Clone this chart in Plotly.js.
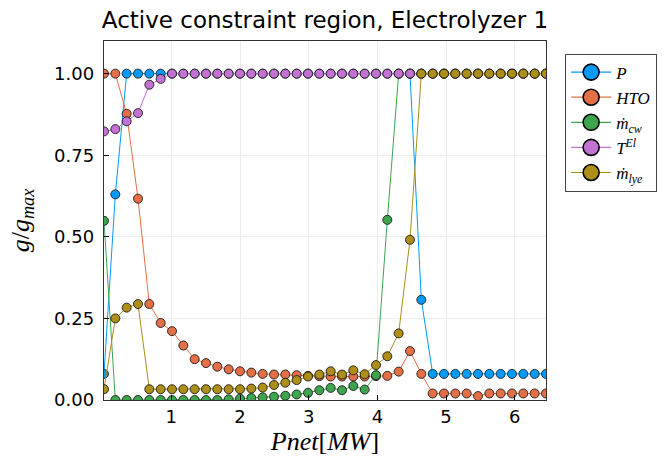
<!DOCTYPE html>
<html>
<head>
<meta charset="utf-8">
<script src="https://cdn.plot.ly/plotly-3.0.1.min.js"></script>
<style>html,body{margin:0;padding:0;background:#fff;}#chart{width:671px;height:457px;}</style>
</head>
<body>
<div id="chart"></div>
<script>
// Pnet [MW]
const pnet = [0.02, 0.185, 0.35, 0.515, 0.68, 0.845, 1.01, 1.175, 1.34, 1.505,
  1.67, 1.835, 2.0, 2.165, 2.33, 2.495, 2.66, 2.825, 2.99, 3.155,
  3.32, 3.485, 3.65, 3.815, 3.98, 4.145, 4.31, 4.475, 4.64, 4.805,
  4.97, 5.135, 5.3, 5.465, 5.63, 5.795, 5.96, 6.125, 6.29, 6.455];

const P = [0.08, 0.63, 1, 1, 1, 1, 1, 1, 1, 1,
  1, 1, 1, 1, 1, 1, 1, 1, 1, 1,
  1, 1, 1, 1, 1, 1, 1, 1, 0.307, 0.08,
  0.08, 0.08, 0.08, 0.08, 0.08, 0.08, 0.08, 0.08, 0.08, 0.08];

const HTO = [1.0, 1.0, 0.877, 0.617, 0.294, 0.236, 0.211, 0.167, 0.125, 0.113,
  0.102, 0.094, 0.088, 0.084, 0.080, 0.078, 0.078, 0.076, 0.074, 0.073,
  0.072, 0.072, 0.072, 0.072, 0.073, 0.074, 0.087, 0.150, 0.080, 0.02,
  0.02, 0.02, 0.02, 0.012, 0.02, 0.02, 0.02, 0.02, 0.02, 0.02];

const mcw = [0.549, 0, 0, 0, 0, 0, 0, 0, 0, 0,
  0, 0.002, 0.004, 0.006, 0.008, 0.010, 0.013, 0.017, 0.022, 0.030,
  0.037, 0.030, 0.043, 0.032, 0.076, 0.552, 1, 1, 1, 1,
  1, 1, 1, 1, 1, 1, 1, 1, 1, 1];

const TEl = [0.823, 0.830, 0.854, 0.879, 0.966, 0.984, 1, 1, 1, 1,
  1, 1, 1, 1, 1, 1, 1, 1, 1, 1,
  1, 1, 1, 1, 1, 1, 1, 1, 1, 1,
  1, 1, 1, 1, 1, 1, 1, 1, 1, 1];

const mlye = [0.033, 0.25, 0.283, 0.294, 0.033, 0.033, 0.033, 0.033, 0.033, 0.033,
  0.033, 0.033, 0.033, 0.035, 0.038, 0.046, 0.053, 0.061, 0.072, 0.078,
  0.088, 0.078, 0.091, 0.079, 0.107, 0.134, 0.204, 0.491, 1, 1,
  1, 1, 1, 1, 1, 1, 1, 1, 1, 1];

const seriesNames = ['<i>P</i>', '<i>HTO</i>', '<i>ṁ</i><sub><i>cw</i></sub>', '<i>T</i><sup><i>El</i></sup>', '<i>ṁ</i><sub><i>lye</i></sub>'];
const seriesData = [P, HTO, mcw, TEl, mlye];
const colors = ['#009AFA', '#E36F47', '#3EA44E', '#C371D2', '#AC8E18'];

const xTicks = [1, 2, 3, 4, 5, 6];
const yTicks = [0, 0.25, 0.5, 0.75, 1.0];

const traces = [];
seriesData.forEach((ys, k) => {
  traces.push({
    x: pnet, y: ys, type: 'scatter', mode: 'lines+markers',
    name: seriesNames[k], showlegend: false,
    line: {color: colors[k], width: 1},
    marker: {color: colors[k], size: 9, line: {color: 'rgba(20,20,20,0.85)', width: 1}}
  });
});
// legend entries (no data)
seriesData.forEach((ys, k) => {
  traces.push({
    x: [null], y: [null], type: 'scatter', mode: 'lines+markers',
    name: seriesNames[k], showlegend: true,
    line: {color: colors[k], width: 1.2},
    marker: {color: colors[k], size: 16, line: {color: '#000', width: 1.6}}
  });
});

const layout = {
  width: 671, height: 457,
  paper_bgcolor: '#fff', plot_bgcolor: '#fff',
  margin: {l: 103.5, r: 124.5, t: 41.4, b: 57, pad: 0},
  title: {
    text: 'Active constraint region, Electrolyzer 1',
    font: {family: 'DejaVu Sans', size: 23, color: '#000'},
    x: 0.5, xref: 'paper', xanchor: 'center',
    y: 1 - 20 / 457, yref: 'container', yanchor: 'middle'
  },
  xaxis: {
    range: [0.02, 6.455],
    tickvals: xTicks, ticktext: xTicks.map(String),
    ticks: 'inside', ticklen: 5, tickcolor: '#000', tickwidth: 1,
    showline: true, linecolor: '#333', linewidth: 1.2, mirror: true,
    showgrid: true, gridcolor: '#ececec', gridwidth: 1,
    zeroline: false,
    tickfont: {family: 'DejaVu Sans', size: 18, color: '#000'},
    title: {text: '<i>Pnet</i>[<i>MW</i>]', font: {family: 'Liberation Serif', size: 26, color: '#000'}, standoff: 4}
  },
  yaxis: {
    range: [0, 1.1],
    tickvals: yTicks, ticktext: yTicks.map(v => v.toFixed(2)),
    ticks: 'inside', ticklen: 5, tickcolor: '#000', tickwidth: 1,
    ticklabelstandoff: 5,
    showline: true, linecolor: '#333', linewidth: 1.2, mirror: true,
    showgrid: true, gridcolor: '#ececec', gridwidth: 1,
    zeroline: false,
    tickfont: {family: 'DejaVu Sans', size: 18, color: '#000'},
    title: {text: '<i>g</i>/<i>g</i><sub><i>max</i></sub>', font: {family: 'Liberation Serif', size: 26, color: '#000'}, standoff: 17}
  },
  showlegend: true,
  legend: {
    x: 1.0433, xanchor: 'left', y: 0.965, yanchor: 'top',
    bgcolor: '#fff', bordercolor: '#444', borderwidth: 1,
    font: {family: 'Liberation Serif', size: 17, color: '#000'},
    tracegroupgap: 0, itemwidth: 40
  }
};

Plotly.newPlot('chart', traces, layout, {displayModeBar: false, staticPlot: true});
</script>
</body>
</html>
